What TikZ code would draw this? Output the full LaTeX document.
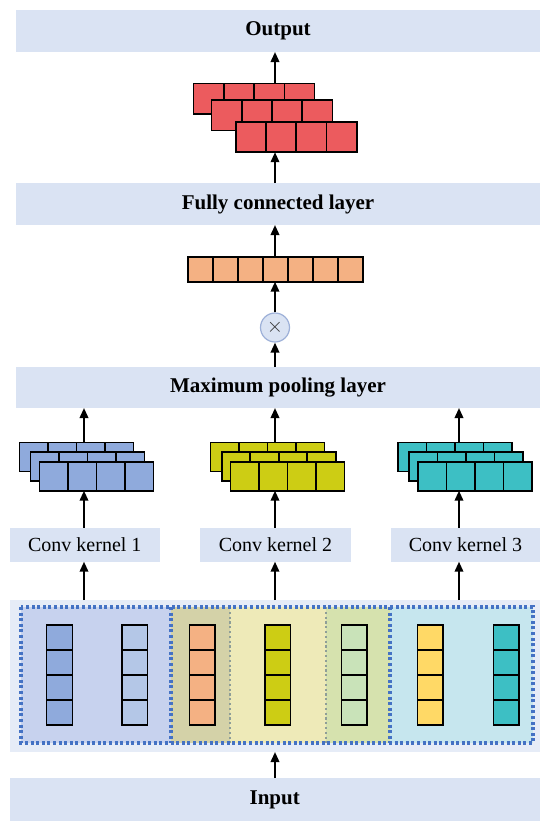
\documentclass[tikz,border=0pt]{standalone}
\usepackage{fontspec}
\setmainfont{Liberation Serif}
\usetikzlibrary{arrows.meta,calc}
\definecolor{bandc}{HTML}{DAE3F3}
\definecolor{inbg}{HTML}{E6ECF7}
\definecolor{redc}{HTML}{EC5B5E}
\definecolor{orangec}{HTML}{F4B183}
\definecolor{bluec}{HTML}{8FAADC}
\definecolor{lbluec}{HTML}{B4C7E7}
\definecolor{ygc}{HTML}{CDCD14}
\definecolor{tealc}{HTML}{3DBFC4}
\definecolor{lgreenc}{HTML}{C9E3B9}
\definecolor{goldc}{HTML}{FFD966}
\definecolor{regblue}{HTML}{C7D2EE}
\definecolor{regolive}{HTML}{D4D2A8}
\definecolor{regyellow}{HTML}{EEEAB8}
\definecolor{reggreen}{HTML}{D6E2AE}
\definecolor{regcyan}{HTML}{C6E6EE}
\definecolor{dotblue}{HTML}{4472C4}
\definecolor{dotgray}{HTML}{8E9E98}
\definecolor{circb}{HTML}{9DB0D8}
\tikzset{
  cellbox/.style={draw=black, line width=1.6pt, inner sep=0pt, outer sep=0pt, anchor=north west},
  cellline/.style={draw=black, line width=1.6pt},
  band/.style={fill=bandc, inner sep=0pt, outer sep=0pt, anchor=north west, font=\fontsize{21}{24}\selectfont\bfseries},
  kbox/.style={fill=bandc, inner sep=0pt, outer sep=0pt, anchor=north west, font=\fontsize{20}{23}\selectfont},
  arr/.style={-{Triangle[length=10pt,width=8.5pt]}, line width=2pt, black},
  bluedot/.style={draw=dotblue, line width=3.2pt, dash pattern=on 3pt off 2.6pt},
  graydot/.style={draw=dotgray, line width=2.4pt, dash pattern=on 2.2pt off 2.6pt},
}
\newcommand{\hrow}[7]{%
  \node[cellbox, fill=#7, minimum width={#4*#5pt}, minimum height={#6pt}] (#1) at (#2,#3) {};
  \pgfmathtruncatemacro{\nmcells}{#4-1}%
  \foreach \i in {1,...,\nmcells}{\draw[cellline] ([xshift={\i*#5pt}]#1.north west) -- ([xshift={\i*#5pt}]#1.south west);}%
}
\newcommand{\vcol}[7]{%
  \node[cellbox, fill=#7, minimum width={#5pt}, minimum height={#4*#6pt}] (#1) at (#2,#3) {};
  \pgfmathtruncatemacro{\nmcells}{#4-1}%
  \foreach \i in {1,...,\nmcells}{\draw[cellline] ([yshift={-\i*#6pt}]#1.north west) -- ([yshift={-\i*#6pt}]#1.north east);}%
}
\begin{document}
\begin{tikzpicture}[x=1pt,y=-1pt]
\useasboundingbox[fill=white] (0,0) rectangle (550,836);
% arrow x positions
\coordinate (ax1) at (84,0);
\coordinate (ax2) at (275,0);
\coordinate (ax3) at (459,0);
% bands
\node[band, minimum width=524pt, minimum height=42pt] (out) at (16,10) {Output};
\node[band, minimum width=524pt, minimum height=42pt] (fc) at (16,183) {Fully connected layer};
\node[band, minimum width=524pt, minimum height=41pt] (pool) at (16,367) {Maximum pooling layer};
\node[band, minimum width=530.5pt, minimum height=43pt] (inp) at (9.5,778) {Input};
% conv kernels
\node[kbox, minimum width=150pt, minimum height=34pt] (k1) at (9.8,527.7) {Conv kernel 1};
\node[kbox, minimum width=151pt, minimum height=34pt] (k2) at (200,527.7) {Conv kernel 2};
\node[kbox, minimum width=149pt, minimum height=34pt] (k3) at (391,527.7) {Conv kernel 3};
% input region
\node[fill=inbg, inner sep=0pt, outer sep=0pt, anchor=north west, minimum width=530.5pt, minimum height=152pt] (reg) at (9.5,600) {};
\fill[regblue] (21,607) rectangle (171,743);
\fill[regolive] (171,607) rectangle (230,743);
\fill[regyellow] (230,607) rectangle (326,743);
\fill[reggreen] (326,607) rectangle (390,743);
\fill[regcyan] (390,607) rectangle (533,743);
\draw[graydot] (230,607) -- (230,743);
\draw[graydot] (326,607) -- (326,743);
\draw[bluedot] (171,607) -- (171,743);
\draw[bluedot] (390,607) -- (390,743);
\draw[bluedot] (21,607) rectangle (533,743);
% input columns
\vcol{c1}{46.6}{625}{4}{25.7}{25}{bluec}
\vcol{c2}{121.7}{625}{4}{25.7}{25}{lbluec}
\vcol{c3}{189.4}{625}{4}{25.7}{25}{orangec}
\vcol{c4}{264.8}{625}{4}{25.7}{25}{ygc}
\vcol{c5}{341.3}{625}{4}{25.7}{25}{lgreenc}
\vcol{c6}{417.4}{625}{4}{25.7}{25}{goldc}
\vcol{c7}{493.5}{625}{4}{25.7}{25}{tealc}
% feature map stacks
\hrow{b1}{19.3}{442.3}{4}{28.5}{29}{bluec}
\hrow{b2}{30.5}{451.7}{4}{28.5}{29}{bluec}
\hrow{b3}{39.3}{461.7}{4}{28.5}{29}{bluec}
\hrow{y1}{210.5}{442.3}{4}{28.5}{29}{ygc}
\hrow{y2}{221.7}{451.7}{4}{28.5}{29}{ygc}
\hrow{y3}{230.4}{461.7}{4}{28.5}{29}{ygc}
\hrow{t1}{398}{442.3}{4}{28.5}{29}{tealc}
\hrow{t2}{409}{451.7}{4}{28.5}{29}{tealc}
\hrow{t3}{418}{461.7}{4}{28.5}{29}{tealc}
% fully connected vector
\hrow{fv}{188}{256.7}{7}{25}{25}{orangec}
% output stack
\hrow{r1}{193.6}{83.3}{4}{30.25}{30.5}{redc}
\hrow{r2}{211.5}{100}{4}{30.25}{30.5}{redc}
\hrow{r3}{235.7}{121.7}{4}{30.25}{30.5}{redc}
% multiply circle
\node[circle, draw=circb, line width=1.2pt, fill=bandc, minimum size=29pt, inner sep=0pt, font=\fontsize{20}{20}\selectfont, text=black!80] (mul) at (275,327.5) {$\times$};
% arrows
\draw[arr] (inp.north -| ax2) -- (reg.south -| ax2);
\draw[arr] (reg.north -| ax1) -- (k1.south -| ax1);
\draw[arr] (reg.north -| ax2) -- (k2.south -| ax2);
\draw[arr] (reg.north -| ax3) -- (k3.south -| ax3);
\draw[arr] (k1.north -| ax1) -- (b3.south -| ax1);
\draw[arr] (k2.north -| ax2) -- (y3.south -| ax2);
\draw[arr] (k3.north -| ax3) -- (t3.south -| ax3);
\draw[arr] (b1.north -| ax1) -- (pool.south -| ax1);
\draw[arr] (y1.north -| ax2) -- (pool.south -| ax2);
\draw[arr] (t1.north -| ax3) -- (pool.south -| ax3);
\draw[arr] (pool.north -| ax2) -- (mul.south);
\draw[arr] (mul.north) -- (fv.south -| ax2);
\draw[arr] (fv.north -| ax2) -- (fc.south -| ax2);
\draw[arr] (fc.north -| ax2) -- (r3.south -| ax2);
\draw[arr] (r1.north -| ax2) -- (out.south -| ax2);
\end{tikzpicture}
\end{document}
